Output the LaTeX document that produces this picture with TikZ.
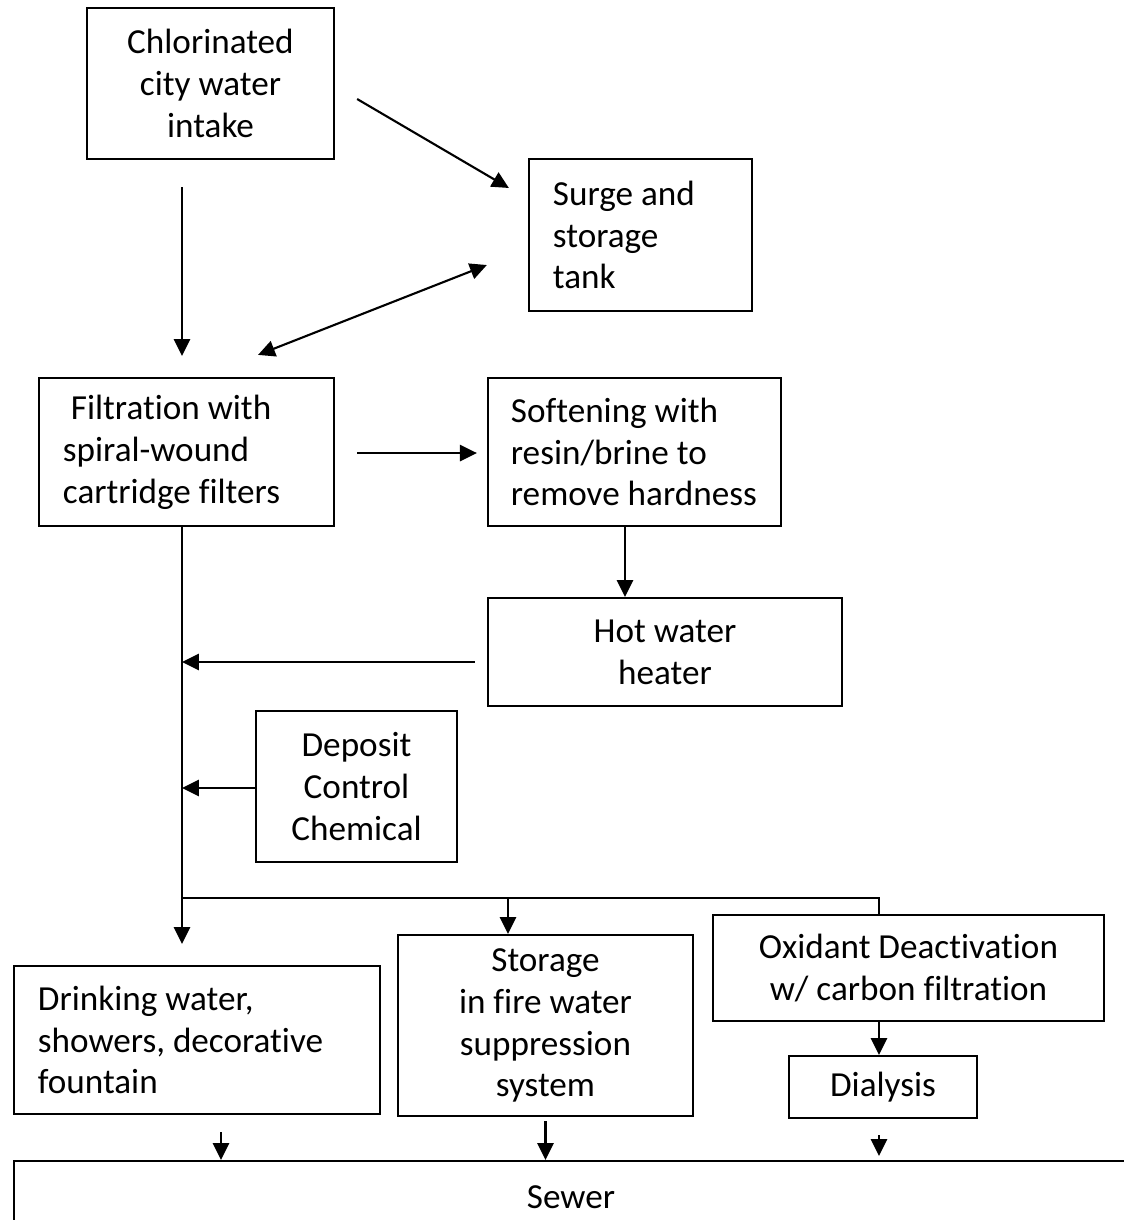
\documentclass[tikz,border=0pt]{standalone}
\usepackage{fontspec}
\setmainfont{Carlito}[Ligatures={NoCommon}]
\usetikzlibrary{arrows.meta}

\begin{document}
\begin{tikzpicture}[x=0.01cm, y=-0.01cm,
    box/.style={draw, line width=0.6pt, inner sep=0pt, font=\fontsize{10pt}{11.9pt}\selectfont},
    arr/.style={line width=0.6pt, -{Triangle[length=4.8pt, width=4.6pt]}},
    link/.style={line width=0.6pt}]
    \clip (0,0) rectangle (1124,1220);

    % Columns used by the vertical lines
    \coordinate (trunk) at (182,0);
    \coordinate (feed) at (508,0);
    \coordinate (tap) at (879,0);
    \coordinate (split) at (182,898);

    % Boxes
    \node[box, minimum width=2.47cm, minimum height=1.51cm, align=center] (chlor) at (210.5,83.5)
        {Chlorinated\\city water\\intake};
    \node[box, minimum width=2.23cm, minimum height=1.52cm, text width=1.75cm, align=flush left] (surge) at (640.5,235)
        {Surge and\\storage\\tank};
    \node[box, minimum width=2.95cm, minimum height=1.48cm, text width=2.47cm, align=flush left] (filt) at (186.5,452)
        {\hspace*{0.08cm}Filtration with\\spiral-wound\\cartridge filters};
    \node[box, minimum width=2.93cm, minimum height=1.48cm, text width=2.47cm, align=flush left] (soft) at (634.5,452)
        {Softening with\\resin/brine to\\remove hardness};
    \node[box, minimum width=3.54cm, minimum height=1.08cm, align=center] (hot) at (665,652)
        {Hot water\\heater};
    \node[box, minimum width=2.01cm, minimum height=1.51cm, align=center] (depo) at (356.5,786.5)
        {Deposit\\Control\\Chemical};
    \node[box, minimum width=3.66cm, minimum height=1.48cm, text width=3.18cm, align=flush left] (drink) at (197,1040)
        {Drinking water,\\showers, decorative\\fountain};
    \node[box, minimum width=2.95cm, minimum height=1.81cm, align=center] (stor) at (545.5,1025.5)
        {Storage\\in fire water\\suppression\\system};
    \node[box, minimum width=3.91cm, minimum height=1.06cm, align=center] (oxid) at (908.5,968)
        {Oxidant Deactivation\\w/ carbon filtration};
    \node[box, minimum width=1.88cm, minimum height=0.62cm, align=center] (dial) at (883,1087)
        {Dialysis};
    \node[box, minimum width=11.14cm, minimum height=0.72cm] (sewer) at (571,1197)
        {Sewer};

    % Intake and tank
    \draw[arr, shorten <=0.27cm, shorten >=0.21cm] (chlor.south -| trunk) -- (filt.north -| trunk);
    \draw[arr] ([shift={(0.22cm,-0.155cm)}]chlor.east) -- ([shift={(-0.19cm,0.47cm)}]surge.west);
    \draw[line width=0.6pt, {Triangle[length=4.8pt, width=4.6pt]}-{Triangle[length=4.8pt, width=4.6pt]}]
        ([shift={(-0.41cm,-0.3cm)}]surge.west) -- ([shift={(0.715cm,0.22cm)}]filt.north);

    % Softening and heater
    \draw[arr, shorten <=0.22cm, shorten >=0.1cm] ([yshift=-0.01cm]filt.east) -- ([yshift=-0.01cm]soft.west);
    \draw[arr] ([xshift=-0.095cm]soft.south) -- ([xshift=-0.095cm]soft.south |- hot.north);

    % Main line
    \draw[arr, shorten >=0.21cm] (filt.south -| trunk) -- (drink.north -| trunk);
    \draw[arr, shorten <=0.12cm] ([yshift=-0.1cm]hot.west) -- ([yshift=-0.1cm]hot.west -| trunk);
    \draw[arr] ([yshift=-0.015cm]depo.west) -- ([yshift=-0.015cm]depo.west -| trunk);

    % Branches
    \draw[link] (split) -| (oxid.north -| tap);
    \draw[arr] (split -| feed) -- (stor.north -| feed);
    \draw[arr] (oxid.south -| tap) -- (dial.north -| tap);

    % To sewer
    \draw[arr, shorten <=0.17cm] ([xshift=0.24cm]drink.south) -- ([xshift=0.24cm]drink.south |- sewer.north);
    \draw[arr, shorten <=0.04cm] (stor.south) -- (stor.south |- sewer.north);
    \draw[arr, shorten <=0.16cm, shorten >=0.04cm] (dial.south -| tap) -- (sewer.north -| tap);
\end{tikzpicture}
\end{document}
